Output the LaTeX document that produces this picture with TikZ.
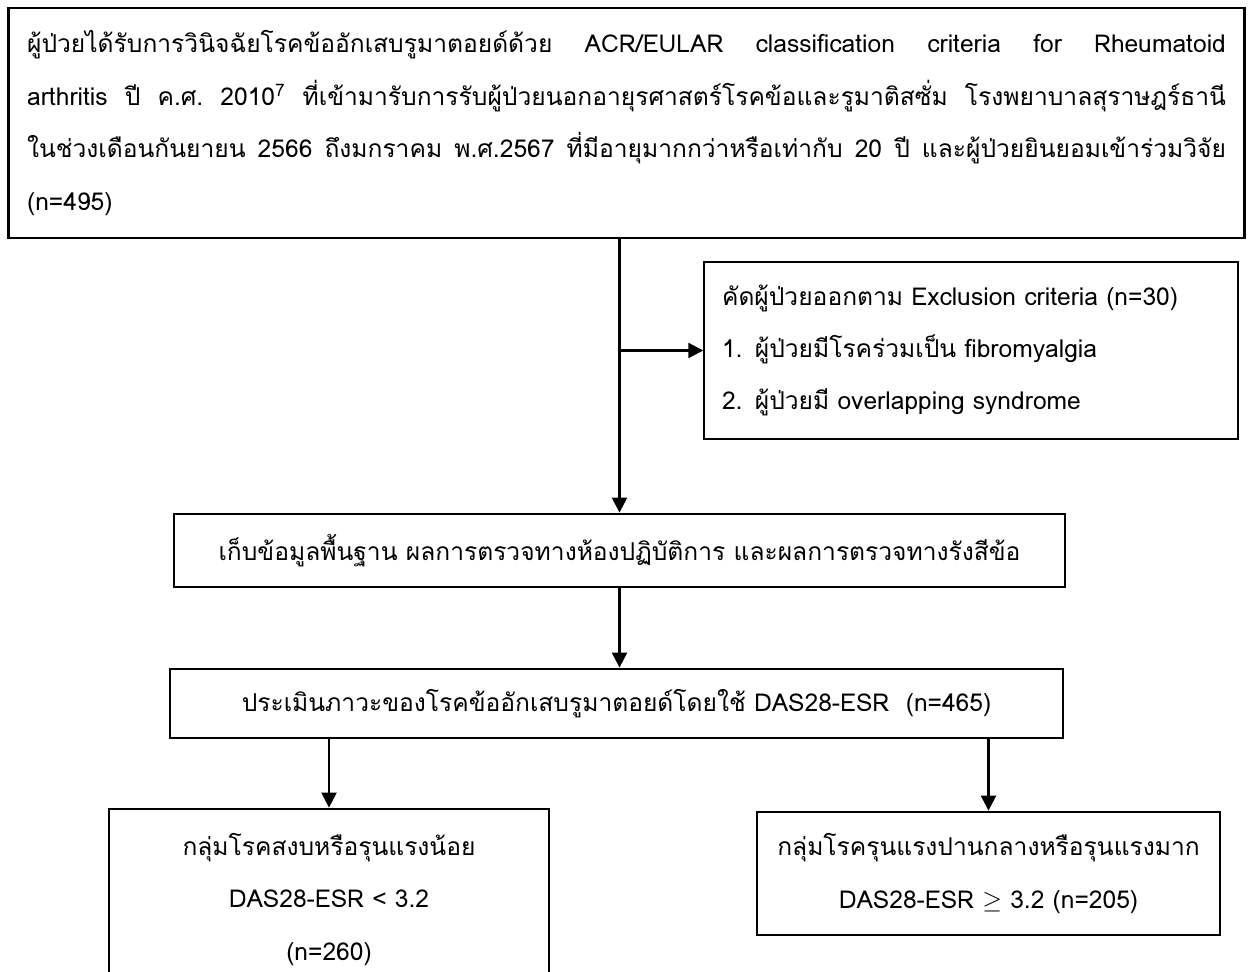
\documentclass[tikz,border=0pt]{standalone}
\usepackage{fontspec}
\setmainfont[Script=Thai]{Loma}
\usetikzlibrary{arrows.meta,calc}
\newcommand{\wgap}{\hspace{0.28em plus 1fill}}

\begin{document}
\begin{tikzpicture}[x=0.02cm,y=-0.02cm]
\tikzset{
	main box/.style = {rectangle, draw, line width = 1.6pt, inner sep = 0pt, align = center, font = \fontsize{14}{29.8}\selectfont},
	note box/.style = {rectangle, draw, line width = 0.9pt, inner xsep = 0.36cm, inner ysep = 0pt, align = left, font = \fontsize{14}{29.5}\selectfont},
	flow arrow/.style = {-{Triangle[width=8.5pt,length=8.5pt]}, line width = 1.3pt}
}
\useasboundingbox (0,0) rectangle (1250,972);
\clip (0,0) rectangle (1250,972);

\node(top)[main box, align = left, inner xsep = 0.38cm, text width = 23.98cm, minimum height = 4.6cm] at (626.5,123) {%
\makebox[23.98cm][s]{ผู้ป่วยได้รับการวินิจฉัยโรคข้ออักเสบรูมาตอยด์ด้วย\wgap ACR/EULAR\wgap classification\wgap criteria\wgap for\wgap Rheumatoid}\\
\makebox[23.98cm][s]{arthritis\wgap ปี\wgap ค.ศ.\wgap 2010\textsuperscript{7}\wgap ที่เข้ามารับการรับผู้ป่วยนอกอายุรศาสตร์โรคข้อและรูมาติสซั่ม\wgap โรงพยาบาลสุราษฎร์ธานี}\\
\makebox[23.98cm][s]{ในช่วงเดือนกันยายน\wgap 2566\wgap ถึงมกราคม\wgap พ.ศ.2567\wgap ที่มีอายุมากกว่าหรือเท่ากับ\wgap 20\wgap ปี\wgap และผู้ป่วยยินยอมเข้าร่วมวิจัย}\\
(n=495)};
\node(excl)[note box, text width = 9.96cm, minimum height = 3.54cm] at (971,350.5) {%
คัดผู้ป่วยออกตาม Exclusion criteria (n=30)\\
1. ผู้ป่วยมีโรคร่วมเป็น fibromyalgia\\
2. ผู้ป่วยมี overlapping syndrome};
\node(collect)[main box, minimum width = 17.82cm, minimum height = 1.46cm] at (619.5,550.5) {เก็บข้อมูลพื้นฐาน ผลการตรวจทางห้องปฏิบัติการ และผลการตรวจทางรังสีข้อ};
\node(assess)[main box, minimum width = 17.86cm, minimum height = 1.38cm] at (616.5,703.5) {ประเมินภาวะของโรคข้ออักเสบรูมาตอยด์โดยใช้ DAS28-ESR~~(n=465)};
\node(low)[main box, minimum width = 8.8cm, minimum height = 3.62cm] at (329,899.5) {กลุ่มโรคสงบหรือรุนแรงน้อย\\ DAS28-ESR < 3.2\\ (n=260)};
\node(high)[main box, minimum width = 9.26cm, minimum height = 2.46cm] at (988.5,873.5) {กลุ่มโรครุนแรงปานกลางหรือรุนแรงมาก\\ DAS28-ESR $\geq$ 3.2 (n=205)};

\coordinate(split) at (collect.north |- excl.west);
\draw[flow arrow] (top.south -| collect.north) -- (collect.north);
\draw[flow arrow] (split) -- (excl.west);
\draw[flow arrow] (collect.south) -- (collect.south |- assess.north);
\draw[flow arrow] (low.north |- assess.south) -- (low.north);
\draw[flow arrow] (high.north |- assess.south) -- (high.north);
\end{tikzpicture}
\end{document}
